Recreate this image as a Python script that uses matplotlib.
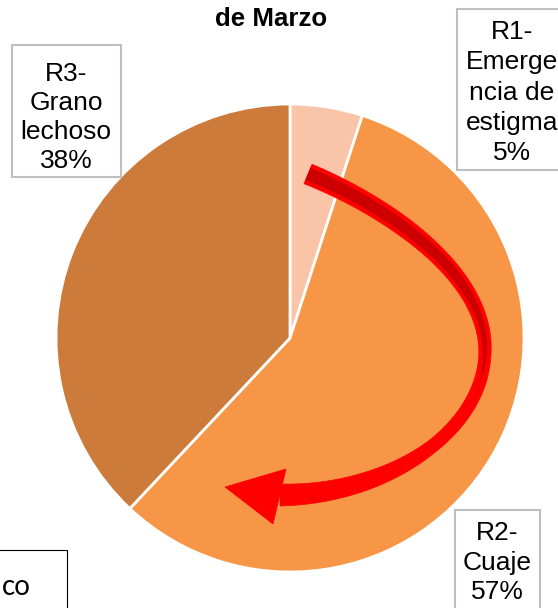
import numpy as np
import matplotlib.pyplot as plt
from matplotlib.patches import Polygon, Rectangle

# chart data
etapas = ["R1-\nEmerge\nncia de\nestigma", "R2-\nCuaje", "R3-\nGrano\nlechoso"]
porcentajes = [5, 57, 38]
colores = ["#F9C4A8", "#F79646", "#CC7B3A"]
titulo = "de Marzo"

W, H = 558, 608
fig = plt.figure(figsize=(W / 100, H / 100), dpi=100)
ax = fig.add_axes([0, 0, 1, 1])


def Y(y):
    # pixel row (from top) -> data y
    return H - np.asarray(y)


ax.pie(porcentajes, colors=colores, startangle=90, counterclock=False,
       center=(290, Y(338)), radius=234, frame=True,
       wedgeprops=dict(edgecolor="white", linewidth=2))

ax.set_xlim(0, W)
ax.set_ylim(0, H)
ax.set_aspect("equal")
ax.axis("off")

ax.text(271, Y(7), titulo, fontsize=18.6, fontweight="bold",
        family="Liberation Sans", ha="center", va="top")

# label boxes: (left, top, right, bottom), text centre x, text top, spacing
cajas = [(457, 9, 566, 170, 512, 20, 1.33),
         (455, 510, 540, 620, 497, 521, 1.3),
         (12, 45, 121, 177, 66, 62, 1.27)]
for (x0, y0, x1, y1, tx, ty, ls), et, p in zip(cajas, etapas, porcentajes):
    ax.add_patch(Rectangle((x0, Y(y1)), x1 - x0, y1 - y0, facecolor="white",
                           edgecolor="#BFBFBF", linewidth=1.5, zorder=3))
    ax.text(tx, Y(ty), f"{et}\n{p}%", fontsize=19, family="Liberation Sans",
            ha="center", va="top", linespacing=ls, zorder=4)

# partial box bottom-left
ax.add_patch(Rectangle((-5, Y(620)), 72, 70, facecolor="white",
                       edgecolor="black", linewidth=0.8, zorder=3))
ax.text(2, Y(595), "co", fontsize=20, family="Lato", ha="left",
        va="baseline", zorder=4)


# curved red arrow (two cubic beziers)
def bez(p0, p1, p2, p3, n=80):
    t = np.linspace(0, 1, n)[:, None]
    p0, p1, p2, p3 = map(np.array, (p0, p1, p2, p3))
    return ((1 - t) ** 3 * p0 + 3 * (1 - t) ** 2 * t * p1
            + 3 * (1 - t) * t ** 2 * p2 + t ** 3 * p3)


c1 = bez((308, 174), (382, 204), (485, 270), (485, 350))
c2 = bez((485, 350), (485, 430), (390, 495), (280, 495))[1:]
cx, cy = np.r_[c1[:, 0], c2[:, 0]], np.r_[c1[:, 1], c2[:, 1]]
seg = np.hypot(np.diff(cx), np.diff(cy))
s = np.r_[0, np.cumsum(seg)] / seg.sum()
gx, gy = np.gradient(cx), np.gradient(cy)
nn = np.hypot(gx, gy)
nx, ny = -gy / nn, gx / nn


def banda(w, m=None):
    if m is None:
        m = np.ones_like(s, dtype=bool)
    lx, ly = cx[m] + w[m] * nx[m], cy[m] + w[m] * ny[m]
    rx, ry = cx[m] - w[m] * nx[m], cy[m] - w[m] * ny[m]
    px = np.r_[lx, rx[::-1]]
    py = np.r_[ly, ry[::-1]]
    return np.column_stack([px, Y(py)])


w = np.interp(s, [0, .2, .35, .5, .7, .85, 1], [10.5, 9.5, 8, 6, 6.5, 9, 11])
ax.add_patch(Polygon(banda(w), closed=True, facecolor="#FF0000",
                     edgecolor="#FF0000", linewidth=0.5, zorder=5))
w_in = np.interp(s, [0, .2, .35, .47, .56], [6.5, 5.5, 4.5, 2.5, 0])
ax.add_patch(Polygon(banda(w_in, s < 0.56), closed=True, facecolor="#CC0000",
                     edgecolor="none", zorder=6))
cabeza = [(225, 487), (286, 469), (273, 524)]
ax.add_patch(Polygon([(x, Y(y)) for x, y in cabeza], closed=True,
                     facecolor="#FF0000", edgecolor="#FF0000", linewidth=0.5,
                     zorder=5))

plt.savefig("out.png", dpi=100)
